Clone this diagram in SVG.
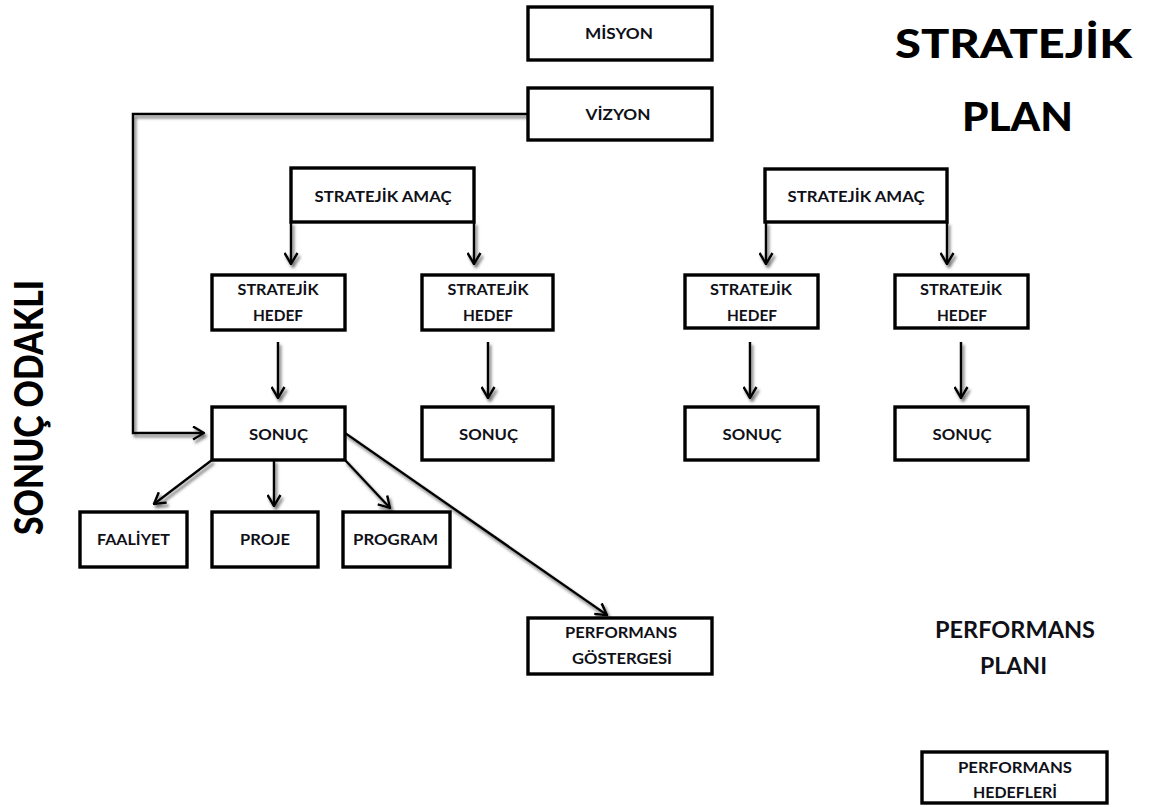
<svg xmlns="http://www.w3.org/2000/svg" width="1162" height="807" viewBox="0 0 1162 807">
  <style>
    .box { fill: #ffffff; stroke: #000000; stroke-width: 3.4; }
    .lbl { font-family: Lato, "Open Sans", "DejaVu Sans", sans-serif; font-weight: 700; font-size: 15.5px; fill: #101018; text-anchor: middle; }
    .big { font-family: Lato, "Open Sans", "DejaVu Sans", sans-serif; font-weight: 900; font-size: 39px; fill: #000000; text-anchor: middle; }
    .mid { font-family: Lato, "Open Sans", "DejaVu Sans", sans-serif; font-weight: 700; font-size: 22px; fill: #101018; text-anchor: middle; }
    .wire { fill: none; stroke: #000000; stroke-width: 2.5; }
    .arrow { marker-end: url(#chev); }
  </style>
  <defs>
    <marker id="chev" viewBox="0 0 13 15" refX="12" refY="7.5" markerWidth="13" markerHeight="15" markerUnits="userSpaceOnUse" orient="auto">
      <path d="M1,1 L12,7.5 L1,14" fill="none" stroke="#000" stroke-width="2.5"/>
    </marker>
    <!-- soft grey drop shadow under the connector lines -->
    <filter id="shade" x="-10%" y="-10%" width="120%" height="120%">
      <feGaussianBlur in="SourceAlpha" stdDeviation="1.7" result="b"/>
      <feOffset in="b" dx="2" dy="3" result="o"/>
      <feFlood flood-color="#6e6e6e" flood-opacity="0.95"/>
      <feComposite in2="o" operator="in" result="s"/>
      <feMerge><feMergeNode in="s"/><feMergeNode in="SourceGraphic"/></feMerge>
    </filter>
  </defs>

  <rect width="1162" height="807" fill="#ffffff"/>

  <!-- connectors -->
  <g id="connectors" filter="url(#shade)">
    <path class="wire arrow" d="M528,114 H133 V433 H204"/>
    <path class="wire arrow" d="M291,222 V264"/>
    <path class="wire arrow" d="M474,222 V264"/>
    <path class="wire arrow" d="M766,222 V264"/>
    <path class="wire arrow" d="M947,222 V264"/>
    <path class="wire arrow" d="M278,342 V398"/>
    <path class="wire arrow" d="M488,342 V398"/>
    <path class="wire arrow" d="M750,342 V398"/>
    <path class="wire arrow" d="M961,342 V398"/>
    <path class="wire arrow" d="M212,460 L154,504"/>
    <path class="wire arrow" d="M274,460 V506"/>
    <path class="wire arrow" d="M345,460 L390,508"/>
    <path class="wire arrow" d="M345,433 L607,615"/>
  </g>

  <g id="misyon">
    <rect class="box" x="528" y="7" width="184" height="53"/>
    <text class="lbl" x="619" y="39" textLength="68" lengthAdjust="spacingAndGlyphs">MİSYON</text>
  </g>
  <g id="vizyon">
    <rect class="box" x="528" y="88" width="184" height="52"/>
    <text class="lbl" x="618" y="120" textLength="65" lengthAdjust="spacingAndGlyphs">VİZYON</text>
  </g>

  <g id="amac-1">
    <rect class="box" x="291" y="168" width="183" height="54"/>
    <text class="lbl" x="383" y="202" textLength="137" lengthAdjust="spacingAndGlyphs">STRATEJİK AMAÇ</text>
  </g>
  <g id="amac-2">
    <rect class="box" x="765" y="169" width="182" height="53"/>
    <text class="lbl" x="856" y="202" textLength="137" lengthAdjust="spacingAndGlyphs">STRATEJİK AMAÇ</text>
  </g>

  <g id="hedef-1">
    <rect class="box" x="212" y="275" width="133" height="55"/>
    <text class="lbl" x="278" y="295" textLength="81" lengthAdjust="spacingAndGlyphs">STRATEJİK</text>
    <text class="lbl" x="278" y="321" textLength="50" lengthAdjust="spacingAndGlyphs">HEDEF</text>
  </g>
  <g id="hedef-2">
    <rect class="box" x="422" y="275" width="131" height="55"/>
    <text class="lbl" x="488" y="295" textLength="81" lengthAdjust="spacingAndGlyphs">STRATEJİK</text>
    <text class="lbl" x="488" y="321" textLength="50" lengthAdjust="spacingAndGlyphs">HEDEF</text>
  </g>
  <g id="hedef-3">
    <rect class="box" x="685" y="275" width="133" height="53"/>
    <text class="lbl" x="751" y="295" textLength="82" lengthAdjust="spacingAndGlyphs">STRATEJİK</text>
    <text class="lbl" x="752" y="321" textLength="50" lengthAdjust="spacingAndGlyphs">HEDEF</text>
  </g>
  <g id="hedef-4">
    <rect class="box" x="895" y="275" width="133" height="53"/>
    <text class="lbl" x="961" y="295" textLength="82" lengthAdjust="spacingAndGlyphs">STRATEJİK</text>
    <text class="lbl" x="962" y="321" textLength="50" lengthAdjust="spacingAndGlyphs">HEDEF</text>
  </g>

  <g id="sonuc-1">
    <rect class="box" x="212" y="407" width="133" height="53"/>
    <text class="lbl" x="278.5" y="440" textLength="59" lengthAdjust="spacingAndGlyphs">SONUÇ</text>
  </g>
  <g id="sonuc-2">
    <rect class="box" x="422" y="407" width="131" height="53"/>
    <text class="lbl" x="488.5" y="440" textLength="59" lengthAdjust="spacingAndGlyphs">SONUÇ</text>
  </g>
  <g id="sonuc-3">
    <rect class="box" x="685" y="407" width="133" height="53"/>
    <text class="lbl" x="752" y="440" textLength="59" lengthAdjust="spacingAndGlyphs">SONUÇ</text>
  </g>
  <g id="sonuc-4">
    <rect class="box" x="895" y="407" width="133" height="53"/>
    <text class="lbl" x="962" y="440" textLength="59" lengthAdjust="spacingAndGlyphs">SONUÇ</text>
  </g>

  <g id="faaliyet">
    <rect class="box" x="80" y="512" width="107" height="55"/>
    <text class="lbl" x="133.5" y="545" textLength="73" lengthAdjust="spacingAndGlyphs">FAALİYET</text>
  </g>
  <g id="proje">
    <rect class="box" x="212" y="512" width="106" height="55"/>
    <text class="lbl" x="265" y="545" textLength="50" lengthAdjust="spacingAndGlyphs">PROJE</text>
  </g>
  <g id="program">
    <rect class="box" x="343" y="512" width="107" height="55"/>
    <text class="lbl" x="395.5" y="545" textLength="85" lengthAdjust="spacingAndGlyphs">PROGRAM</text>
  </g>

  <g id="performans-gostergesi">
    <rect class="box" x="528" y="618" width="184" height="56"/>
    <text class="lbl" x="621" y="638" textLength="112" lengthAdjust="spacingAndGlyphs">PERFORMANS</text>
    <text class="lbl" x="622" y="664" textLength="100" lengthAdjust="spacingAndGlyphs">GÖSTERGESİ</text>
  </g>

  <g id="performans-hedefleri">
    <rect class="box" x="922" y="752" width="185" height="51"/>
    <text class="lbl" x="1015" y="773" textLength="114" lengthAdjust="spacingAndGlyphs">PERFORMANS</text>
    <text class="lbl" x="1015" y="798" textLength="84" lengthAdjust="spacingAndGlyphs">HEDEFLERİ</text>
  </g>

  <!-- headings -->
  <g id="stratejik-plan">
    <text class="big" x="1013.5" y="58" textLength="237" lengthAdjust="spacingAndGlyphs">STRATEJİK</text>
    <text class="big" x="1017.5" y="131" textLength="111" lengthAdjust="spacingAndGlyphs">PLAN</text>
  </g>
  <g id="performans-plani">
    <text class="mid" x="1015" y="638" textLength="160" lengthAdjust="spacingAndGlyphs">PERFORMANS</text>
    <text class="mid" x="1013.5" y="674" textLength="67" lengthAdjust="spacingAndGlyphs">PLANI</text>
  </g>
  <g id="sonuc-odakli">
    <text class="big" transform="translate(43,407.5) rotate(-90)" x="0" y="0" textLength="255" lengthAdjust="spacingAndGlyphs">SONUÇ ODAKLI</text>
  </g>
</svg>
